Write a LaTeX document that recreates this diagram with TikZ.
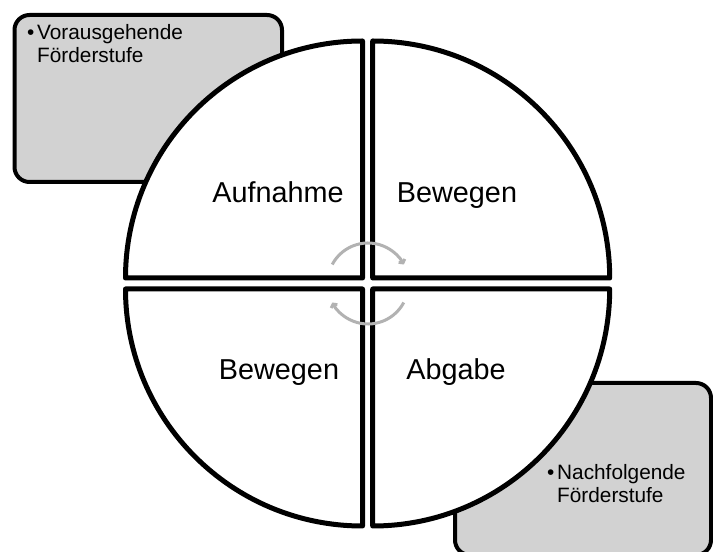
\documentclass[tikz,border=0pt]{standalone}
\usepackage{fontspec}
\setmainfont{Liberation Sans}
\usetikzlibrary{arrows.meta,positioning}

\begin{document}
\begin{tikzpicture}[x=1pt, y=1pt,
    stage/.style={draw=black, line width=4pt, fill=gray!35, rounded corners=15pt, inner sep=0pt},
    stagetext/.style={anchor=base west, align=left, inner sep=0pt, font=\fontsize{20.8}{23}\selectfont},
    quarter/.style={draw=black, line width=5pt, fill=white, line join=round},
    phase/.style={anchor=base, inner sep=0pt, font=\fontsize{28.8}{34}\selectfont},
    turn/.style={draw=gray!60, line width=3pt, -{Straight Barb[length=2.5pt, width=7pt]}}
]

\useasboundingbox (0,0) rectangle (713,552);

% Stages before and after
\node (prev) at (148.25,453.5) [stage, minimum width=267.5pt, minimum height=167pt] {};
\node (next) at (583,83) [stage, minimum width=256pt, minimum height=172pt] {};

% (base = last line)
\node (prevtext) at (27,489) [stagetext] {\makebox[10pt][l]{•}Vorausgehende\\\hspace*{10pt}Förderstufe};
\node (nexttext) at (547,49) [stagetext] {\makebox[10pt][l]{•}Nachfolgende\\\hspace*{10pt}Förderstufe};

% Quarters of the circle
\draw [quarter] (362.5,274) -- ++(0,237) arc (90:180:237) -- cycle;
\draw [quarter] (372.7,274) -- ++(237,0) arc (0:90:237) -- cycle;
\draw [quarter] (362.5,263) -- ++(-237,0) arc (180:270:237) -- cycle;
\draw [quarter] (372.7,263) -- ++(0,-237) arc (270:360:237) -- cycle;

% Phases
\node (take) at (278,349) [phase] {Aufnahme};
\node (move1) at (457,349) [phase] {Bewegen};
\node (move2) at (279,172) [phase] {Bewegen};
\node (give) at (456,172) [phase] {Abgabe};

% Cycle
\coordinate (mid) at (368,268.5);
\draw [turn] ([shift={(152:40.5)}]mid) arc (152:28:40.5);
\draw [turn] ([shift={(-28:40.5)}]mid) arc (-28:-152:40.5);

\end{tikzpicture}
\end{document}
